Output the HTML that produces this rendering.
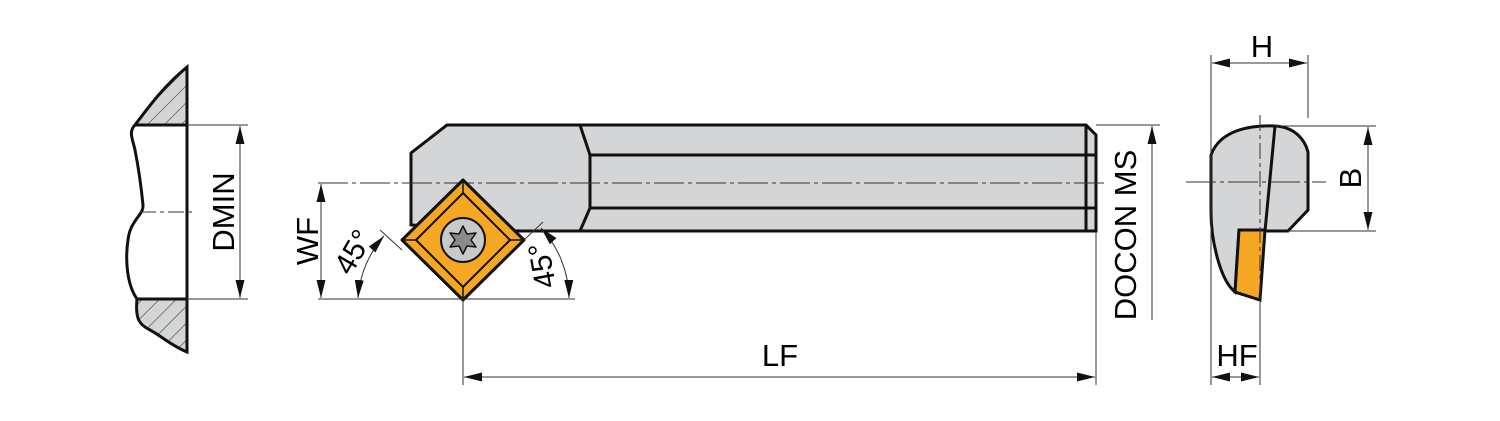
<!DOCTYPE html>
<html><head><meta charset="utf-8"><style>body{margin:0;background:#fff}svg{display:block}</style></head><body>
<svg width="1500" height="421" viewBox="0 0 1500 421" xmlns="http://www.w3.org/2000/svg" font-family="Liberation Sans, sans-serif">
<defs>
<marker id="a" viewBox="0 0 18 9" refX="18" refY="4.5" markerWidth="18" markerHeight="9" orient="auto-start-reverse" markerUnits="userSpaceOnUse"><path d="M0,0L18,4.5L0,9z" fill="#111"/></marker>
<pattern id="h" width="12" height="12" patternUnits="userSpaceOnUse" patternTransform="rotate(45)"><rect width="12" height="12" fill="#d4d5d7"/><line x1="0" y1="0" x2="0" y2="12" stroke="#444" stroke-width="1.2"/></pattern>
</defs>
<!-- left view -->
<path d="M187,67 C165,85 150,105 135,125 L187,125 Z" fill="url(#h)" stroke="#111" stroke-width="3"/>
<path d="M137,299 L187,299 L187,352 C170,345 160,335 150,330 C140,325 135,320 137,299 Z" fill="url(#h)" stroke="#111" stroke-width="3"/>
<path d="M135,125 C128,132 133,140 135,150 C140,175 142,195 143,205 C144,215 130,220 128,240 C125,260 127,285 137,299" fill="none" stroke="#111" stroke-width="3"/>
<line x1="187" y1="67" x2="187" y2="352" stroke="#111" stroke-width="3"/>
<line x1="140" y1="212" x2="196" y2="212" stroke="#333" stroke-width="1" stroke-dasharray="16,4,4,4"/>
<line x1="187" y1="125" x2="248" y2="125" stroke="#333" stroke-width="1"/>
<line x1="187" y1="299" x2="248" y2="299" stroke="#333" stroke-width="1"/>
<line x1="240" y1="126" x2="240" y2="298" stroke="#333" stroke-width="1" marker-start="url(#a)" marker-end="url(#a)"/>
<text transform="translate(234,212) rotate(-90)" text-anchor="middle" font-size="31">DMIN</text>
<!-- bar -->
<path d="M447,125 L1086,125 L1096,135 L1096,231 L520,231 L411,225 L411,153 Z" fill="#d4d5d7" stroke="#111" stroke-width="3"/>
<path d="M580,125 L590,155 L590,208 L580,231" fill="none" stroke="#111" stroke-width="3"/>
<line x1="590" y1="155" x2="1096" y2="155" stroke="#111" stroke-width="3"/>
<line x1="590" y1="208" x2="1096" y2="208" stroke="#111" stroke-width="3"/>
<line x1="1086" y1="125" x2="1086" y2="231" stroke="#111" stroke-width="3"/>
<line x1="318" y1="183" x2="1105" y2="183" stroke="#333" stroke-width="1" stroke-dasharray="30,4,4,4"/>
<!-- insert -->
<path d="M463,180 L524,240 L463,300 L402,240 Z" fill="#f5a623" stroke="#111" stroke-width="3" stroke-linejoin="round"/>
<path d="M463,193 L510,240 L463,287 L416,240 Z" fill="none" stroke="#111" stroke-width="2"/>
<line x1="463" y1="181" x2="463" y2="193" stroke="#111" stroke-width="1.5"/><line x1="463" y1="287" x2="463" y2="299" stroke="#111" stroke-width="1.5"/>
<line x1="403" y1="240" x2="416" y2="240" stroke="#111" stroke-width="1.5"/><line x1="510" y1="240" x2="523" y2="240" stroke="#111" stroke-width="1.5"/>
<circle cx="463" cy="240" r="22" fill="#c8c9cb" stroke="#111" stroke-width="2"/>
<path d="M463,226 L467,234 L476,233 L471,240 L476,247 L467,246 L463,254 L459,246 L450,247 L455,240 L450,233 L459,234 Z" fill="#8a8b8d" stroke="#111" stroke-width="1.5" stroke-linejoin="round"/>
<!-- WF & angles -->
<line x1="318" y1="299" x2="575" y2="299" stroke="#333" stroke-width="1"/>
<line x1="463" y1="300" x2="463" y2="385" stroke="#333" stroke-width="1"/>
<line x1="321" y1="184" x2="321" y2="298" stroke="#333" stroke-width="1" marker-start="url(#a)" marker-end="url(#a)"/>
<text transform="translate(318,241) rotate(-90)" text-anchor="middle" font-size="31">WF</text>
<line x1="380" y1="230" x2="402" y2="250" stroke="#333" stroke-width="1"/>
<line x1="543" y1="222" x2="524" y2="240" stroke="#333" stroke-width="1"/>
<path d="M384,236 A105,105 0 0 0 358,298" fill="none" stroke="#333" stroke-width="1" marker-start="url(#a)" marker-end="url(#a)"/>
<path d="M541,228 A105,105 0 0 1 569,298" fill="none" stroke="#333" stroke-width="1" marker-start="url(#a)" marker-end="url(#a)"/>
<text transform="translate(362,257) rotate(-60)" text-anchor="middle" font-size="30">45°</text>
<text transform="translate(552,264) rotate(-100)" text-anchor="middle" font-size="30">45°</text>
<!-- DOCON -->
<line x1="1096" y1="125" x2="1160" y2="125" stroke="#333" stroke-width="1"/>
<line x1="1096" y1="232" x2="1096" y2="385" stroke="#333" stroke-width="1"/>
<line x1="1152" y1="320" x2="1152" y2="126" stroke="#333" stroke-width="1" marker-end="url(#a)"/>
<text transform="translate(1136,235) rotate(-90)" text-anchor="middle" font-size="31">DOCON MS</text>
<!-- LF -->
<line x1="464" y1="377" x2="1095" y2="377" stroke="#333" stroke-width="1" marker-start="url(#a)" marker-end="url(#a)"/>
<text x="780" y="366" text-anchor="middle" font-size="31">LF</text>
<!-- right view -->
<path d="M1211,155 C1220,130 1250,125 1275,126 C1295,127 1305,140 1308,152 L1308,210 L1288,231 L1265,231 L1239,230 L1235,292 C1220,280 1211,240 1211,212 Z" fill="#d4d5d7" stroke="#111" stroke-width="3"/>
<path d="M1239,230 L1265,230 L1260,300 L1235,292 Z" fill="#f5a623" stroke="#111" stroke-width="3"/>
<line x1="1275" y1="126" x2="1265" y2="231" stroke="#111" stroke-width="3"/>
<line x1="1260" y1="115" x2="1260" y2="300" stroke="#333" stroke-width="1" stroke-dasharray="16,4,4,4"/>
<line x1="1186" y1="182" x2="1326" y2="182" stroke="#333" stroke-width="1" stroke-dasharray="30,4,4,4"/>
<line x1="1211" y1="55" x2="1211" y2="385" stroke="#333" stroke-width="1"/>
<line x1="1308" y1="55" x2="1308" y2="118" stroke="#333" stroke-width="1"/>
<line x1="1260" y1="300" x2="1260" y2="385" stroke="#333" stroke-width="1"/>
<line x1="1212" y1="63" x2="1307" y2="63" stroke="#333" stroke-width="1" marker-start="url(#a)" marker-end="url(#a)"/>
<text x="1262" y="57" text-anchor="middle" font-size="31">H</text>
<line x1="1275" y1="126" x2="1376" y2="126" stroke="#333" stroke-width="1"/>
<line x1="1288" y1="231" x2="1376" y2="231" stroke="#333" stroke-width="1"/>
<line x1="1368" y1="127" x2="1368" y2="230" stroke="#333" stroke-width="1" marker-start="url(#a)" marker-end="url(#a)"/>
<text transform="translate(1361,178) rotate(-90)" text-anchor="middle" font-size="31">B</text>
<line x1="1212" y1="377" x2="1259" y2="377" stroke="#333" stroke-width="1" marker-start="url(#a)" marker-end="url(#a)"/>
<text x="1237" y="366" text-anchor="middle" font-size="31">HF</text>
</svg>
</body></html>
